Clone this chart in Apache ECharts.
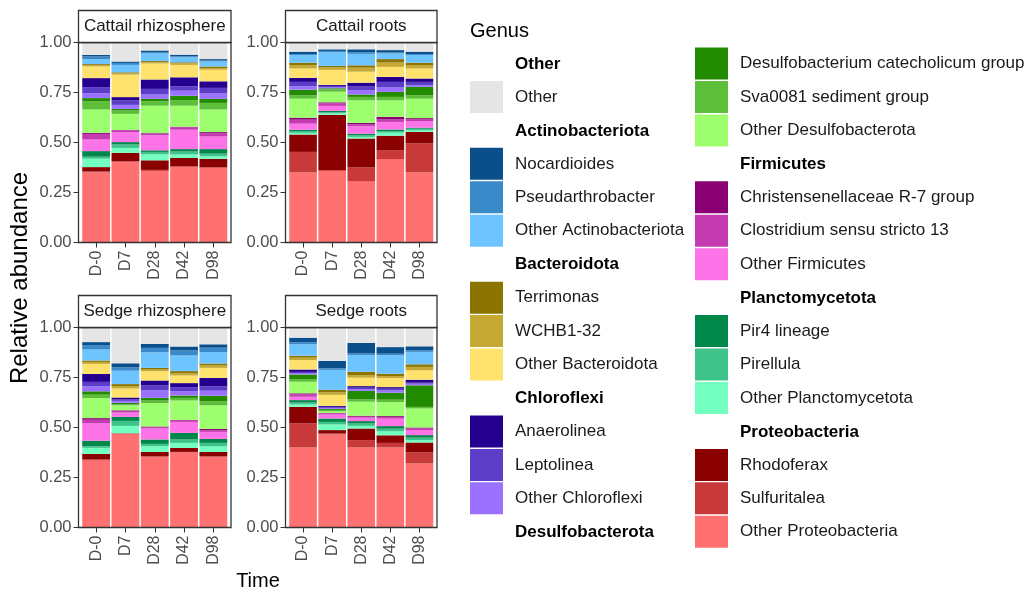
<!DOCTYPE html>
<html>
<head>
<meta charset="utf-8">
<script src="https://cdn.jsdelivr.net/npm/echarts@6/dist/echarts.min.js"></script>
<style>
  html, body { margin: 0; padding: 0; background: #ffffff; }
  #chart { width: 1027px; height: 593px; }
</style>
</head>
<body>
<div id="chart"></div>
<script>
// Sampling days (x categories) and the four facets
const timePoints = ['D-0', 'D7', 'D28', 'D42', 'D98'];
const facets = ['Cattail rhizosphere', 'Cattail roots', 'Sedge rhizosphere', 'Sedge roots'];
const yTicks = [0, 0.25, 0.5, 0.75, 1];

// Relative abundance per genus; 20 values = 4 facets x 5 time points
// (Cattail rhizosphere, Cattail roots, Sedge rhizosphere, Sedge roots)
const otherProteobacteria = [0.350, 0.403, 0.358, 0.378, 0.373,  0.350, 0.358, 0.307, 0.417, 0.350,  0.337, 0.467, 0.353, 0.375, 0.353,  0.400, 0.465, 0.400, 0.400, 0.320];
const sulfuritalea        = [0.005, 0.003, 0.005, 0.003, 0.003,  0.103, 0.005, 0.068, 0.045, 0.145,  0.003, 0.002, 0.003, 0.003, 0.003,  0.120, 0.005, 0.037, 0.023, 0.055];
const rhodoferax          = [0.022, 0.042, 0.048, 0.042, 0.042,  0.087, 0.275, 0.145, 0.072, 0.058,  0.028, 0.002, 0.022, 0.020, 0.022,  0.083, 0.017, 0.058, 0.038, 0.050];
const otherPlanctomycetota= [0.042, 0.025, 0.030, 0.017, 0.013,  0.008, 0.008, 0.008, 0.015, 0.008,  0.030, 0.037, 0.028, 0.025, 0.028,  0.012, 0.028, 0.013, 0.020, 0.012];
const pirellula           = [0.010, 0.017, 0.012, 0.015, 0.013,  0.008, 0.005, 0.008, 0.008, 0.008,  0.008, 0.025, 0.012, 0.017, 0.017,  0.010, 0.013, 0.012, 0.013, 0.012];
const pir4Lineage         = [0.028, 0.012, 0.008, 0.012, 0.023,  0.008, 0.007, 0.008, 0.008, 0.005,  0.028, 0.020, 0.022, 0.033, 0.020,  0.012, 0.017, 0.012, 0.013, 0.013];
const otherFirmicutes     = [0.058, 0.050, 0.075, 0.097, 0.063,  0.030, 0.025, 0.037, 0.038, 0.033,  0.088, 0.022, 0.055, 0.055, 0.035,  0.017, 0.020, 0.017, 0.037, 0.025];
const clostridium13       = [0.028, 0.008, 0.008, 0.012, 0.017,  0.020, 0.013, 0.010, 0.012, 0.008,  0.017, 0.008, 0.007, 0.007, 0.008,  0.012, 0.005, 0.005, 0.008, 0.008];
const christensenellaceae = [0.005, 0.003, 0.003, 0.003, 0.005,  0.010, 0.005, 0.007, 0.013, 0.007,  0.008, 0.003, 0.003, 0.003, 0.007,  0.005, 0.003, 0.005, 0.005, 0.005];
const otherDesulfobacterota=[0.117, 0.080, 0.137, 0.105, 0.113,  0.095, 0.053, 0.113, 0.083, 0.097,  0.100, 0.025, 0.117, 0.097, 0.118,  0.058, 0.008, 0.070, 0.070, 0.095];
const sva0081             = [0.042, 0.017, 0.022, 0.028, 0.033,  0.017, 0.012, 0.017, 0.017, 0.017,  0.017, 0.005, 0.013, 0.013, 0.020,  0.013, 0.007, 0.012, 0.012, 0.008];
const desulfobacterium    = [0.015, 0.008, 0.012, 0.022, 0.020,  0.028, 0.005, 0.012, 0.025, 0.042,  0.017, 0.007, 0.013, 0.012, 0.028,  0.023, 0.005, 0.042, 0.035, 0.108];
const otherChloroflexi    = [0.025, 0.020, 0.022, 0.025, 0.027,  0.017, 0.005, 0.022, 0.022, 0.008,  0.025, 0.010, 0.037, 0.022, 0.025,  0.005, 0.005, 0.008, 0.012, 0.008];
const leptolinea          = [0.030, 0.022, 0.028, 0.022, 0.028,  0.022, 0.007, 0.020, 0.028, 0.017,  0.022, 0.007, 0.025, 0.020, 0.022,  0.008, 0.005, 0.008, 0.008, 0.005];
const anaerolinea         = [0.045, 0.017, 0.047, 0.045, 0.033,  0.020, 0.005, 0.017, 0.025, 0.017,  0.040, 0.010, 0.025, 0.020, 0.042,  0.012, 0.005, 0.008, 0.008, 0.015];
const otherBacteroidota   = [0.058, 0.112, 0.080, 0.062, 0.058,  0.047, 0.075, 0.055, 0.050, 0.050,  0.050, 0.045, 0.047, 0.038, 0.050,  0.047, 0.055, 0.042, 0.045, 0.047];
const wchb132             = [0.007, 0.007, 0.007, 0.008, 0.008,  0.017, 0.012, 0.020, 0.022, 0.017,  0.010, 0.012, 0.008, 0.012, 0.012,  0.012, 0.013, 0.013, 0.010, 0.017];
const terrimonas          = [0.005, 0.005, 0.005, 0.005, 0.008,  0.012, 0.008, 0.012, 0.017, 0.012,  0.007, 0.010, 0.008, 0.010, 0.010,  0.010, 0.012, 0.017, 0.012, 0.013];
const otherActinobacteriota=[0.025, 0.037, 0.038, 0.025, 0.025,  0.038, 0.068, 0.057, 0.028, 0.038,  0.055, 0.067, 0.078, 0.078, 0.057,  0.057, 0.100, 0.083, 0.092, 0.062];
const pseudarthrobacter   = [0.013, 0.010, 0.007, 0.005, 0.005,  0.005, 0.007, 0.008, 0.005, 0.005,  0.022, 0.017, 0.022, 0.025, 0.022,  0.010, 0.008, 0.008, 0.008, 0.008];
const nocardioides        = [0.008, 0.007, 0.008, 0.008, 0.007,  0.012, 0.008, 0.015, 0.012, 0.012,  0.015, 0.020, 0.020, 0.020, 0.017,  0.023, 0.037, 0.053, 0.033, 0.020];
const otherGenera         = [0.070, 0.110, 0.050, 0.075, 0.095,  0.055, 0.045, 0.045, 0.045, 0.055,  0.085, 0.195, 0.095, 0.110, 0.095,  0.060, 0.175, 0.085, 0.105, 0.100];

// Stack order, bottom to top
const stackNames = [
  'Other Proteobacteria', 'Sulfuritalea', 'Rhodoferax',
  'Other Planctomycetota', 'Pirellula', 'Pir4 lineage',
  'Other Firmicutes', 'Clostridium sensu stricto 13', 'Christensenellaceae R-7 group',
  'Other Desulfobacterota', 'Sva0081 sediment group', 'Desulfobacterium catecholicum group',
  'Other Chloroflexi', 'Leptolinea', 'Anaerolinea',
  'Other Bacteroidota', 'WCHB1-32', 'Terrimonas',
  'Other Actinobacteriota', 'Pseudarthrobacter', 'Nocardioides',
  'Other'
];
const stackValues = [
  otherProteobacteria, sulfuritalea, rhodoferax,
  otherPlanctomycetota, pirellula, pir4Lineage,
  otherFirmicutes, clostridium13, christensenellaceae,
  otherDesulfobacterota, sva0081, desulfobacterium,
  otherChloroflexi, leptolinea, anaerolinea,
  otherBacteroidota, wchb132, terrimonas,
  otherActinobacteriota, pseudarthrobacter, nocardioides,
  otherGenera
];
const stackColors = [
  '#FF7070', '#C83A3A', '#8B0000',
  '#72FFC0', '#3EC48A', '#00874A',
  '#FF73E8', '#C43AB0', '#8B0073',
  '#9DFF6E', '#5DBE3A', '#228B00',
  '#9A72FF', '#5C3DC8', '#25008F',
  '#FFE26E', '#C4AA35', '#8C7400',
  '#6DC4FF', '#3A8AC9', '#0A4F8C',
  '#E5E5E5'
];

// Legend layout: phylum headers and their genera, two columns
const legendColumns = [
  [
    { header: 'Other', items: ['Other'] },
    { header: 'Actinobacteriota', items: ['Nocardioides', 'Pseudarthrobacter', 'Other Actinobacteriota'] },
    { header: 'Bacteroidota', items: ['Terrimonas', 'WCHB1-32', 'Other Bacteroidota'] },
    { header: 'Chloroflexi', items: ['Anaerolinea', 'Leptolinea', 'Other Chloroflexi'] },
    { header: 'Desulfobacterota', items: [] }
  ],
  [
    { header: null, items: ['Desulfobacterium catecholicum group', 'Sva0081 sediment group', 'Other Desulfobacterota'] },
    { header: 'Firmicutes', items: ['Christensenellaceae R-7 group', 'Clostridium sensu stricto 13', 'Other Firmicutes'] },
    { header: 'Planctomycetota', items: ['Pir4 lineage', 'Pirellula', 'Other Planctomycetota'] },
    { header: 'Proteobacteria', items: ['Rhodoferax', 'Sulfuritalea', 'Other Proteobacteria'] }
  ]
];

const FONT = '"Liberation Sans", Arial, sans-serif';
const panelBoxes = [
  { x: 78.5, y: 42.5, w: 152.5, h: 200 },
  { x: 285.5, y: 42.5, w: 151.5, h: 200 },
  { x: 78.5, y: 327.5, w: 152.5, h: 200 },
  { x: 285.5, y: 327.5, w: 151.5, h: 200 }
];
const stripH = 32;
const inset = 3;

const grids = [], xAxes = [], yAxes = [], series = [], graphics = [];

panelBoxes.forEach((b, p) => {
  grids.push({ left: b.x + inset, top: b.y, width: b.w - 2 * inset, height: b.h, containLabel: false });
  xAxes.push({
    type: 'category', gridIndex: p, data: timePoints,
    axisLine: { show: false },
    axisTick: { show: true, alignWithLabel: true, length: 5, lineStyle: { color: '#333333', width: 1 } },
    axisLabel: { rotate: 90, margin: 8, fontSize: 16, color: '#4D4D4D', fontFamily: FONT, interval: 0 }
  });
  yAxes.push({
    type: 'value', gridIndex: p, min: yTicks[0], max: yTicks[yTicks.length - 1], interval: 0.25,
    axisLine: { show: false },
    axisTick: { show: false },
    splitLine: { show: false },
    axisLabel: { margin: 10, fontSize: 16.5, color: '#4D4D4D', fontFamily: FONT, formatter: v => v.toFixed(2) }
  });

  stackNames.forEach((name, s) => {
    series.push({
      type: 'bar', name: name, stack: 'panel' + p,
      xAxisIndex: p, yAxisIndex: p,
      barCategoryGap: '5%',
      clip: true,
      itemStyle: { color: stackColors[s] },
      emphasis: { disabled: true },
      data: stackValues[s].slice(p * 5, p * 5 + 5)
    });
  });

  // y tick marks reaching from the left panel border
  yTicks.forEach(t => {
    const yy = b.y + b.h - t * b.h;
    graphics.push({ type: 'line', z: 100, shape: { x1: b.x - 5, y1: yy, x2: b.x, y2: yy }, style: { stroke: '#333333', lineWidth: 1 } });
  });
  // panel border
  graphics.push({ type: 'rect', z: 100, shape: { x: b.x, y: b.y, width: b.w, height: b.h }, style: { fill: null, stroke: '#333333', lineWidth: 1.3 } });
  // facet strip
  graphics.push({ type: 'rect', z: 100, shape: { x: b.x, y: b.y - stripH, width: b.w, height: stripH }, style: { fill: '#ffffff', stroke: '#333333', lineWidth: 1.3 } });
  graphics.push({ type: 'text', z: 101, x: b.x + b.w / 2, y: b.y - stripH / 2, style: { text: facets[p], fill: '#1A1A1A', font: '17px ' + FONT, textAlign: 'center', textVerticalAlign: 'middle' } });
});

// axis titles
graphics.push({ type: 'text', x: 20, y: 278, rotation: Math.PI / 2, style: { text: 'Relative abundance', fill: '#000000', font: '24px ' + FONT, textAlign: 'center', textVerticalAlign: 'middle' } });
graphics.push({ type: 'text', x: 258, y: 581, style: { text: 'Time', fill: '#000000', font: '20px ' + FONT, textAlign: 'center', textVerticalAlign: 'middle' } });
graphics.push({ type: 'text', x: 470, y: 31, style: { text: 'Genus', fill: '#000000', font: '20px ' + FONT, textAlign: 'left', textVerticalAlign: 'middle' } });

// legend: one ECharts legend per genus block, bold headers as text
const rowTop = 64, rowPitch = 33.45;
const colKeyX = [470, 695];
const legends = [];
legendColumns.forEach((col, c) => {
  let row = 0;
  col.forEach(group => {
    if (group.header) {
      graphics.push({ type: 'text', x: colKeyX[c] + 45, y: rowTop + row * rowPitch, style: { text: group.header, fill: '#000000', font: 'bold 17px ' + FONT, textAlign: 'left', textVerticalAlign: 'middle' } });
      row += 1;
    }
    if (group.items.length) {
      legends.push({
        data: group.items, orient: 'vertical', left: colKeyX[c], top: rowTop + row * rowPitch - 16.5,
        icon: 'rect', itemWidth: 33, itemHeight: 32, itemGap: rowPitch - 32, padding: 0,
        selectedMode: false,
        textStyle: { fontSize: 17, color: '#1A1A1A', fontFamily: FONT, padding: [0, 0, 0, 7] }
      });
      row += group.items.length;
    }
  });
});

const chart = echarts.init(document.getElementById('chart'), null, { renderer: 'canvas' });
chart.setOption({
  animation: false,
  backgroundColor: '#ffffff',
  grid: grids, xAxis: xAxes, yAxis: yAxes,
  legend: legends,
  series: series,
  graphic: graphics
});
</script>
</body>
</html>
